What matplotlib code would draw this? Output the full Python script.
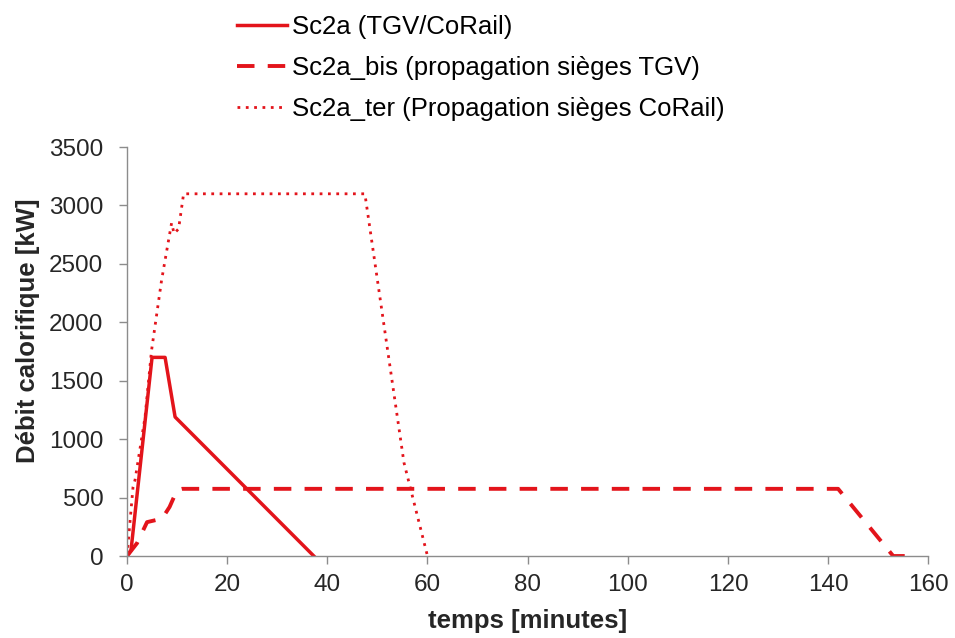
import matplotlib.pyplot as plt

plt.rcParams['font.family'] = ['Liberation Sans', 'DejaVu Sans']

# -----------------------------
# Data
# -----------------------------
t_sc2a = [0, 0.8, 5.0, 7.6, 9.6, 37.3]
q_sc2a = [0, 50, 1700, 1700, 1190, 0]

t_bis = [0, 2.0, 4.0, 7.0, 8.5, 10.0, 11.0, 142.0, 153.0, 157.5]
q_bis = [0, 110, 290, 320, 420, 565, 575, 575, 0, 0]

t_ter = [0, 1.2, 1.6, 3.6, 4.9, 6.9, 8.9, 9.4, 10.3, 11.3, 47.5, 55.3, 60.0]
q_ter = [0, 590, 650, 1190, 1760, 2360, 2850, 2760, 2800, 3100, 3100, 800, 0]

labels = ["Sc2a (TGV/CoRail)",
          "Sc2a_bis (propagation sièges TGV)",
          "Sc2a_ter (Propagation sièges CoRail)"]

red = "#e3141b"
grey = "#8c8c8c"
txt = "#262626"

# -----------------------------
# Plot
# -----------------------------
fig = plt.figure(figsize=(9.55, 6.38), dpi=100)
ax = fig.add_axes([0.133, 0.1285, 0.839, 0.641])

ax.plot(t_sc2a, q_sc2a, color=red, linewidth=2.5, label=labels[0])
ax.plot(t_bis, q_bis, color=red, linewidth=2.8, linestyle=(0, (4.5, 3.4)), label=labels[1])
ax.plot(t_ter, q_ter, color=red, linewidth=2.0, linestyle=(0, (1.0, 2.0)), label=labels[2])

ax.set_xlim(0, 160)
ax.set_ylim(0, 3500)
ax.set_xticks(range(0, 161, 20))
ax.set_yticks(range(0, 3501, 500))

for side in ["top", "right"]:
    ax.spines[side].set_visible(False)
for side in ["left", "bottom"]:
    ax.spines[side].set_color(grey)
    ax.spines[side].set_linewidth(1.0)
ax.tick_params(colors=grey, labelcolor=txt, labelsize=17.5, length=6, width=1)
ax.tick_params(axis="y", pad=11)
ax.tick_params(axis="x", pad=7)

ax.set_xlabel("temps [minutes]", fontsize=18.5, fontweight="bold", color=txt, labelpad=9)
ax.set_ylabel("Débit calorifique [kW]", fontsize=18.5, fontweight="bold", color=txt)
ax.yaxis.set_label_coords(-0.108, 0.55)

fig.legend(loc="upper left", bbox_to_anchor=(0.248, 0.976), frameon=False,
           fontsize=18.5, handlelength=1.95, handletextpad=0.2, labelspacing=0.65,
           borderpad=0, borderaxespad=0)

plt.savefig("out.png", dpi=100)
